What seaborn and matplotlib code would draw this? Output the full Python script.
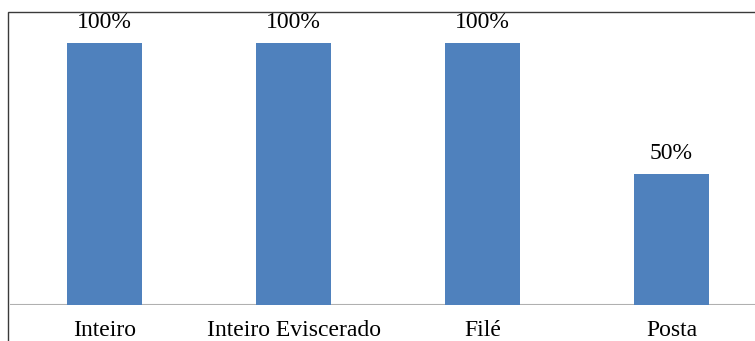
import matplotlib
matplotlib.use("Agg")
import matplotlib.pyplot as plt
import seaborn as sns
import pandas as pd
from matplotlib.patches import Rectangle

# Product presentation forms and share of respondents
categories = ["Inteiro", "Inteiro Eviscerado", "Filé", "Posta"]
values = [100, 100, 100, 50]

df = pd.DataFrame({"forma": categories, "pct": values})

sns.set_theme(style="white")
plt.rcParams["font.family"] = ["Liberation Serif", "DejaVu Serif"]

W, H = 755, 341
fig = plt.figure(figsize=(W / 100, H / 100), dpi=100)
fig.patch.set_facecolor("white")

# chart-area frame (extends past the right and bottom edges)
fig.patches.append(Rectangle((8 / W, -0.05), 1.1, (H - 12) / H + 0.05,
                             transform=fig.transFigure, fill=False,
                             edgecolor="#3a3a3a", linewidth=1.0))

ax = fig.add_axes([10 / W, 36 / H, 756 / W, 293 / H])
ax.set_facecolor("none")

sns.barplot(data=df, x="forma", y="pct", color="#4F81BD", saturation=1,
            width=0.4, edgecolor="none", ax=ax)

ax.set_ylim(0, 111.8)
ax.set_xlim(-0.5, 3.5)
ax.axhline(0, color="#B0B0B0", linewidth=1.5, zorder=0.5)

for c in ax.containers:
    ax.bar_label(c, labels=[f"{v:.0f}%" for v in values], padding=7,
                 fontsize=17, color="black")

for s in ax.spines.values():
    s.set_visible(False)
ax.set_yticks([])
ax.set_xlabel("")
ax.set_ylabel("")
ax.tick_params(axis="x", length=0, pad=11, labelsize=17, labelcolor="black")

fig.savefig("out.png", dpi=100)
